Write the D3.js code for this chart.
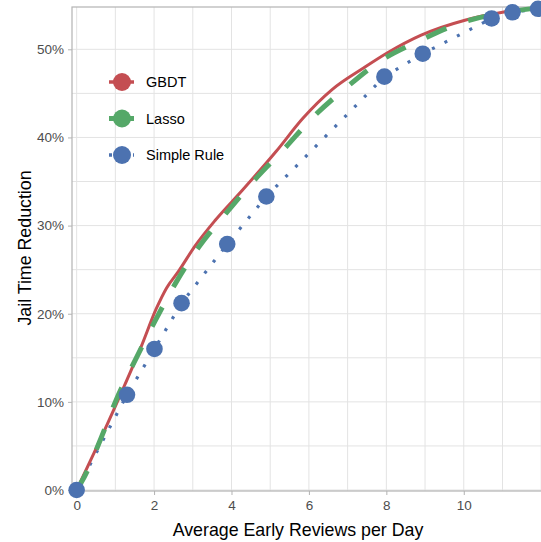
<!DOCTYPE html>
<html>
<head>
<meta charset="utf-8">
<script src="https://cdn.jsdelivr.net/npm/d3@7"></script>
<style>
  body { margin: 0; background: #fff; }
  svg { display: block; font-family: "Liberation Sans", Arial, sans-serif; }
</style>
</head>
<body>
<div id="chart"></div>
<script>
// series: x = average early reviews per day, y = share of jail time reduced
const gbdtX = [0, 0.45, 1.15, 1.67, 2.06, 2.32, 2.63, 3.06, 3.58, 4.28, 5.15, 5.85, 6.59, 7.42, 8.03, 8.9, 10.03, 11.0, 12.15];
const gbdtY = [0, 0.042, 0.110, 0.163, 0.206, 0.229, 0.248, 0.277, 0.306, 0.340, 0.384, 0.422, 0.454, 0.479, 0.496, 0.516, 0.533, 0.542, 0.548];

const lassoX = [0, 0.2, 0.64, 1.0, 1.52, 2.04, 2.56, 3.16, 3.86, 4.6, 5.34, 6.13, 6.95, 7.82, 8.82, 9.86, 10.95, 12.15];
const lassoY = [0, 0.015, 0.060, 0.100, 0.148, 0.193, 0.235, 0.276, 0.314, 0.352, 0.386, 0.424, 0.456, 0.486, 0.509, 0.529, 0.541, 0.548];

const ruleX = [0, 1.3, 2.01, 2.71, 3.89, 4.9, 7.95, 8.94, 10.72, 11.26, 11.92];
const ruleY = [0, 0.108, 0.160, 0.212, 0.279, 0.333, 0.469, 0.495, 0.535, 0.542, 0.546];

const seriesNames = ['GBDT', 'Lasso', 'Simple Rule'];
const xTicks = [0, 2, 4, 6, 8, 10];
const yTicks = [0, 0.1, 0.2, 0.3, 0.4, 0.5];

const colors = { 'GBDT': '#c44e52', 'Lasso': '#55a868', 'Simple Rule': '#4c72b0' };

const width = 541, height = 542;
const margin = { left: 72, top: 7, right: -6, bottom: 50 };

const svg = d3.select('#chart').append('svg')
  .attr('width', width)
  .attr('height', height);

const x = d3.scaleLinear().domain([-0.12, 12.15]).range([margin.left, width - margin.right]);
const y = d3.scaleLinear().domain([0, 0.548]).range([490, margin.top]);

const plotW = width - margin.right - margin.left;

// grid, major and minor
const g = svg.append('g');
const xGrid = d3.range(0, 13, 1);
const yGrid = d3.range(0, 0.55, 0.05);
g.selectAll('line.vgrid').data(xGrid).join('line')
  .attr('class', 'vgrid')
  .attr('x1', d => x(d)).attr('x2', d => x(d))
  .attr('y1', margin.top).attr('y2', 491)
  .attr('stroke', '#e3e3e3').attr('stroke-width', 1);
g.selectAll('line.hgrid').data(yGrid).join('line')
  .attr('class', 'hgrid')
  .attr('x1', margin.left).attr('x2', margin.left + plotW)
  .attr('y1', d => y(d)).attr('y2', d => y(d))
  .attr('stroke', '#e3e3e3').attr('stroke-width', 1);

// panel border
svg.append('rect')
  .attr('x', margin.left).attr('y', margin.top)
  .attr('width', plotW).attr('height', 491 - margin.top)
  .attr('fill', 'none').attr('stroke', '#b3b3b3').attr('stroke-width', 1.2);

// axes
const xAxis = svg.append('g')
  .attr('transform', 'translate(0,491)')
  .call(d3.axisBottom(x).tickValues(xTicks).tickSize(4).tickPadding(5));
const yAxis = svg.append('g')
  .attr('transform', `translate(${margin.left},0)`)
  .call(d3.axisLeft(y).tickValues(yTicks).tickFormat(d3.format('.0%')).tickSize(4).tickPadding(4));
[xAxis, yAxis].forEach(a => {
  a.select('.domain').remove();
  a.selectAll('.tick line').attr('stroke', '#b3b3b3');
  a.selectAll('.tick text').attr('fill', '#4d4d4d').style('font-size', '13.5px');
});

svg.append('text')
  .attr('x', 298).attr('y', 536)
  .attr('text-anchor', 'middle')
  .style('font-size', '17.8px')
  .text('Average Early Reviews per Day');
svg.append('text')
  .attr('transform', 'translate(31,248) rotate(-90)')
  .attr('text-anchor', 'middle')
  .style('font-size', '17.8px')
  .text('Jail Time Reduction');

// lines
const smooth = d3.line().x(d => x(d[0])).y(d => y(d[1])).curve(d3.curveMonotoneX);
const straight = d3.line().x(d => x(d[0])).y(d => y(d[1]));
const zip = (a, b) => a.map((v, i) => [v, b[i]]);
const plot = svg.append('g');

plot.append('path')
  .datum(zip(ruleX, ruleY))
  .attr('d', straight)
  .attr('fill', 'none')
  .attr('stroke', colors['Simple Rule'])
  .attr('stroke-width', 3.2)
  .attr('stroke-dasharray', '3,11');

plot.append('path')
  .datum(zip(gbdtX, gbdtY))
  .attr('d', smooth)
  .attr('fill', 'none')
  .attr('stroke', colors['GBDT'])
  .attr('stroke-width', 3);

plot.append('path')
  .datum(zip(lassoX, lassoY))
  .attr('d', smooth)
  .attr('fill', 'none')
  .attr('stroke', colors['Lasso'])
  .attr('stroke-width', 5)
  .attr('stroke-dasharray', '22,23');

plot.selectAll('circle.rule')
  .data(zip(ruleX, ruleY))
  .join('circle')
  .attr('class', 'rule')
  .attr('cx', d => x(d[0]))
  .attr('cy', d => y(d[1]))
  .attr('r', 8.3)
  .attr('fill', colors['Simple Rule']);

// legend
const legend = svg.append('g');
const keyStyles = {
  'GBDT': { w: 3.5, dash: null },
  'Lasso': { w: 5, dash: null },
  'Simple Rule': { w: 3.5, dash: '3,3' }
};
seriesNames.forEach((name, i) => {
  const cy = 82 + i * 36.5;
  const k = legend.append('g');
  k.append('line')
    .attr('x1', 109).attr('x2', 134)
    .attr('y1', cy).attr('y2', cy)
    .attr('stroke', colors[name])
    .attr('stroke-width', keyStyles[name].w)
    .attr('stroke-dasharray', keyStyles[name].dash);
  k.append('circle')
    .attr('cx', 122).attr('cy', cy).attr('r', 9)
    .attr('fill', colors[name]);
  k.append('text')
    .attr('x', 146).attr('y', cy + 5)
    .style('font-size', '14.5px')
    .text(name);
});
</script>
</body>
</html>
